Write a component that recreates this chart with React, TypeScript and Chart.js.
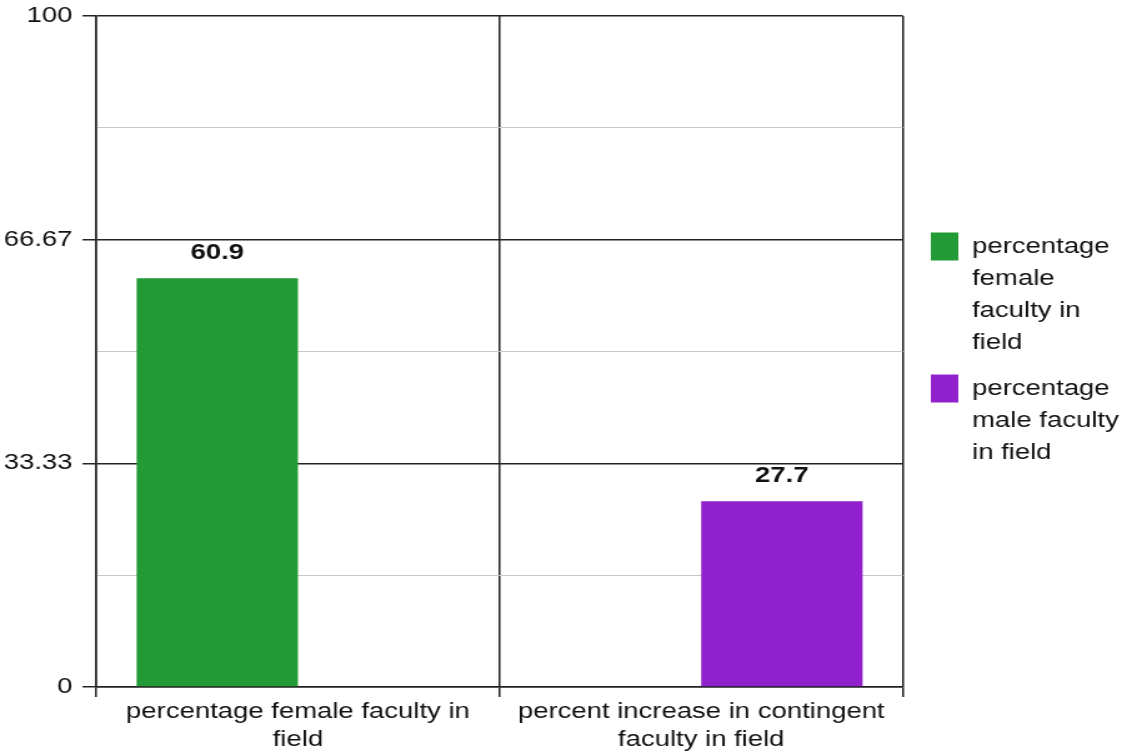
import React, { useEffect, useRef } from "react";
import { Chart, registerables } from "chart.js";

Chart.register(...registerables);

// ---- data ----
const categories: string[][] = [
  ["percentage female faculty in", "field"],
  ["percent increase in contingent", "faculty in field"],
];
const seriesNames: string[] = [
  "percentage female faculty in field",
  "percentage male faculty in field",
];
const legendLines: string[][] = [
  ["percentage", "female", "faculty in", "field"],
  ["percentage", "male faculty", "in field"],
];
const femaleValues: (number | null)[] = [60.9, null];
const maleValues: (number | null)[] = [null, 27.7];
const seriesColors: string[] = ["#229a35", "#9121cd"];
const yTickValues: number[] = [0, 16.67, 33.33, 50, 66.67, 83.33, 100];
const yTickLabels: string[] = ["0", "", "33.33", "", "66.67", "", "100"];

// canvas is drawn at a narrower internal width and stretched horizontally
const CSS_W = 1122;
const CSS_H = 756;
const INT_W = 898;

const FONT = "'Liberation Sans', Arial, sans-serif";
const DARK = "#222";
const TEXT = "#111";

const valueLabels = {
  id: "valueLabels",
  afterDatasetsDraw(chart: any) {
    const ctx = chart.ctx;
    ctx.save();
    ctx.font = `bold 22px ${FONT}`;
    ctx.fillStyle = TEXT;
    ctx.textAlign = "center";
    ctx.textBaseline = "middle";
    chart.data.datasets.forEach((ds: any, di: number) => {
      const meta = chart.getDatasetMeta(di);
      meta.data.forEach((el: any, i: number) => {
        const v = ds.data[i];
        if (v === null || v === undefined) return;
        ctx.fillText(String(v), el.x, el.y - 25);
      });
    });
    ctx.restore();
  },
};

export default function App() {
  const ref = useRef<HTMLCanvasElement | null>(null);

  useEffect(() => {
    if (!ref.current) return;
    const chart = new Chart(ref.current, {
      type: "bar",
      data: {
        labels: categories as any,
        datasets: [
          {
            label: seriesNames[0],
            data: femaleValues,
            backgroundColor: seriesColors[0],
            borderWidth: 0,
            categoryPercentage: 0.8,
            barPercentage: 1.0,
          },
          {
            label: seriesNames[1],
            data: maleValues,
            backgroundColor: seriesColors[1],
            borderWidth: 0,
            categoryPercentage: 0.8,
            barPercentage: 1.0,
          },
        ],
      },
      options: {
        animation: false,
        responsive: false,
        devicePixelRatio: 1,
        layout: { padding: { top: 16, left: 3, right: 0, bottom: 0 } },
        plugins: {
          tooltip: { enabled: false },
          legend: {
            position: "right",
            fullSize: false,
            maxWidth: 167,
            labels: {
              boxWidth: 22,
              boxHeight: 28,
              padding: 14,
              color: TEXT,
              font: { family: FONT, size: 22, lineHeight: "32px" } as any,
              generateLabels: (ch: any) => {
                const items = Chart.defaults.plugins.legend.labels.generateLabels(ch);
                return items.map((it: any, i: number) => ({
                  ...it,
                  text: legendLines[i],
                  lineWidth: 0,
                  strokeStyle: "transparent",
                }));
              },
            },
          },
        },
        scales: {
          x: {
            grid: {
              offset: true,
              color: DARK,
              lineWidth: 1.5,
              tickLength: 10,
              tickColor: DARK,
            },
            border: { color: DARK, width: 1.5 },
            ticks: {
              color: TEXT,
              font: { family: FONT, size: 22, lineHeight: "28px" } as any,
              padding: 1,
              maxRotation: 0,
              autoSkip: false,
            },
            afterFit: (s: any) => {
              s.height = 69;
            },
          },
          y: {
            min: 0,
            max: 100,
            afterBuildTicks: (axis: any) => {
              axis.ticks = yTickValues.map((v) => ({ value: v }));
            },
            afterFit: (s: any) => {
              s.width -= s.options.ticks.padding;
              s.paddingTop = 0;
            },
            grid: {
              color: (c: any) => (c.index % 2 === 1 ? "#c8c8c8" : DARK),
              lineWidth: (c: any) => (c.index % 2 === 1 ? 1 : 1.5),
              tickLength: 11,
              tickColor: (c: any) => (c.index % 2 === 1 ? "rgba(0,0,0,0)" : DARK),
            },
            border: { color: DARK, width: 1.5 },
            ticks: {
              color: TEXT,
              font: { family: FONT, size: 22 },
              padding: 8,
              autoSkip: false,
              callback: (_v: any, i: number) => yTickLabels[i] ?? "",
            },
          },
          // empty spacer axis: keeps a gap between the plot and the legend
          gap: {
            type: "linear",
            position: "right",
            display: true,
            grid: { display: false, drawTicks: false },
            border: { display: false },
            ticks: { display: false },
            afterFit: (s: any) => {
              s.width = 8.4;
              s.paddingTop = 0;
              s.paddingBottom = 0;
            },
          },
        },
      },
      plugins: [valueLabels],
    });
    return () => chart.destroy();
  }, []);

  return (
    <div style={{ position: "absolute", left: 0, top: 0, width: CSS_W, height: CSS_H }}>
      <canvas
        ref={ref}
        width={INT_W}
        height={CSS_H}
        style={{ width: `${CSS_W}px`, height: `${CSS_H}px`, display: "block" }}
      />
    </div>
  );
}
